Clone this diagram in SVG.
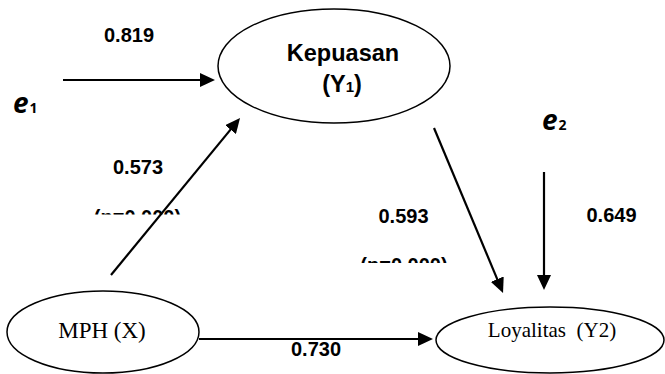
<svg xmlns="http://www.w3.org/2000/svg" width="665" height="374" viewBox="0 0 665 374">
<style>
.node{fill:#fff;stroke:#000;stroke-width:1.5}
.lbl{font-family:"Liberation Sans",Arial,sans-serif;font-weight:bold;font-size:20px;fill:#000;text-anchor:middle}
.ser{font-family:"Liberation Serif","Times New Roman",serif;font-size:20px;fill:#000;text-anchor:middle}
.err{font-family:"Noto Sans","DejaVu Sans",sans-serif;font-weight:bold;font-style:italic;font-size:28px;fill:#000}
.sub{font-family:"Noto Sans","DejaVu Sans",sans-serif;font-weight:bold;font-style:normal;font-size:14px;fill:#000}
.conn line{stroke:#000;stroke-width:2.2;marker-end:url(#ah)}
</style>
<defs>
<marker id="ah" viewBox="0 0 15 14" refX="11" refY="7" markerWidth="15" markerHeight="14" markerUnits="userSpaceOnUse" orient="auto">
<path d="M0,0 L15,7 L0,14 Z" fill="#000"/>
</marker>
<clipPath id="c1"><rect x="80" y="200" width="120" height="14.5"/></clipPath>
<clipPath id="c2"><rect x="350" y="250" width="110" height="13"/></clipPath>
</defs>
<g id="connectors" class="conn">
<line x1="63" y1="80" x2="211" y2="80"/>
<line x1="111" y1="275" x2="237.5" y2="121.1"/>
<line x1="434" y1="128" x2="501.5" y2="289.3"/>
<line x1="544" y1="172" x2="544" y2="286"/>
<line x1="199" y1="339" x2="429" y2="339"/>
</g>
<g id="kepuasan">
<ellipse class="node" cx="334" cy="66" rx="116" ry="57"/>
<text class="lbl" x="343" y="61" style="font-size:23.5px">Kepuasan</text>
<text class="lbl" x="342" y="92" style="font-size:23.5px">(Y<tspan style="font-size:15px">1</tspan>)</text>
</g>
<g id="mph">
<ellipse class="node" cx="103" cy="332" rx="96" ry="41"/>
<text class="ser" x="102" y="338" style="font-size:23px">MPH (X)</text>
</g>
<g id="loyalitas">
<ellipse class="node" cx="550" cy="340" rx="114" ry="33"/>
<text class="ser" x="552" y="337" xml:space="preserve" style="font-size:21px">Loyalitas  (Y2)</text>
</g>
<g id="e1">
<text class="err" x="13" y="113">e<tspan class="sub" dx="1">1</tspan></text>
</g>
<g id="e2">
<text class="err" x="542" y="130">e<tspan class="sub" dx="1">2</tspan></text>
</g>
<g id="labels">
<text class="lbl" x="129" y="42">0.819</text>
<text class="lbl" x="138" y="174">0.573</text>
<text class="lbl" x="137.5" y="223.5" clip-path="url(#c1)">(p=0.000)</text>
<text class="lbl" x="403.5" y="223">0.593</text>
<text class="lbl" x="404" y="272" clip-path="url(#c2)">(p=0.000)</text>
<text class="lbl" x="611.5" y="222">0.649</text>
<text class="lbl" x="316" y="356">0.730</text>
</g>
</svg>
